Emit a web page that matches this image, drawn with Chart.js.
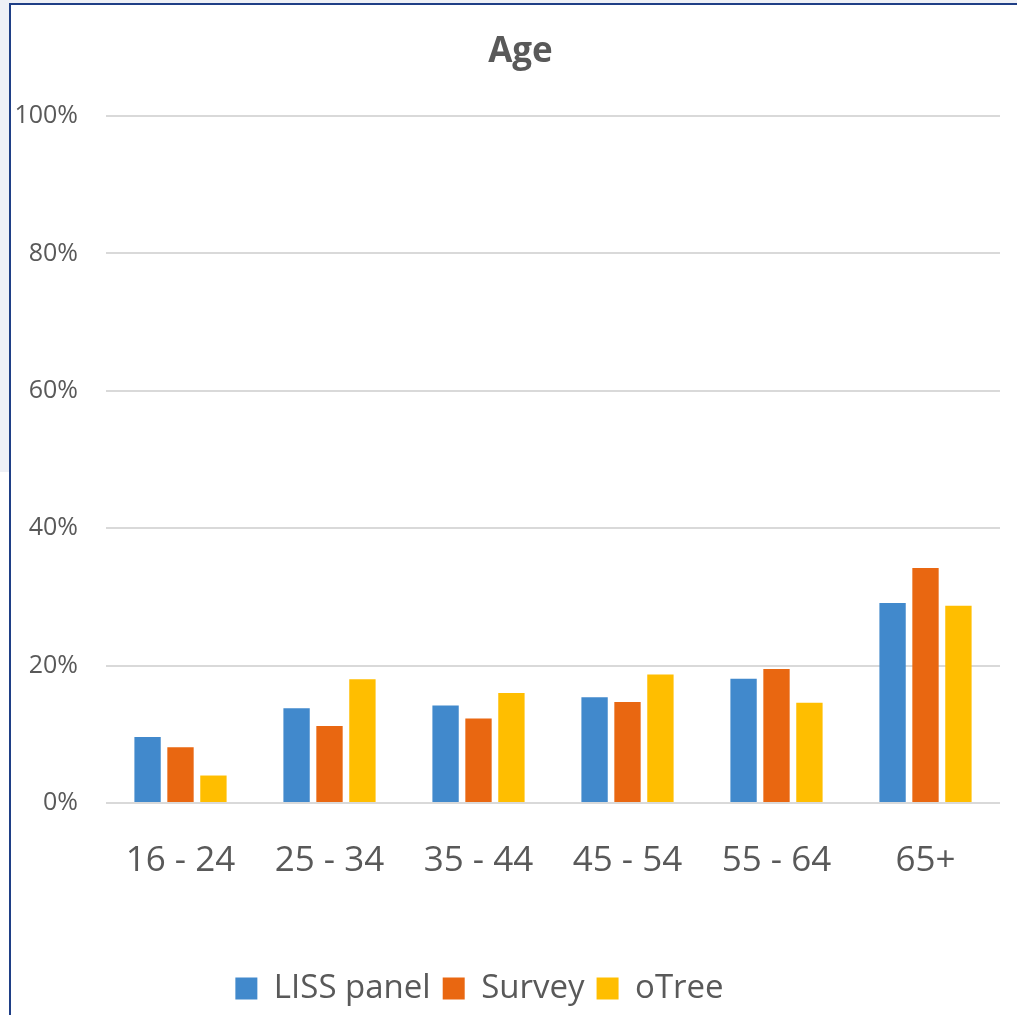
<!DOCTYPE html>
<html>
<head>
<meta charset="utf-8">
<script src="https://cdn.jsdelivr.net/npm/chart.js@4"></script>
<style>
  html, body { margin: 0; padding: 0; }
  body { width: 1017px; height: 1015px; background: #eef0f6; position: relative; overflow: hidden; }
  #lowerStrip { position: absolute; left: 0; top: 472px; width: 10px; height: 543px; background: #fff; }
  #frame {
    position: absolute; left: 9px; top: 3px; width: 1008px; height: 1012px;
    background: #fff; border-left: 2px solid #1f3f86; border-top: 2px solid #1f3f86;
  }
  #wrap { position: absolute; left: 0; top: 0; width: 1006px; height: 1010px; }
</style>
</head>
<body>
<div id="lowerStrip"></div>
<div id="frame">
  <div id="wrap"><canvas id="ageChart" width="1006" height="1010"></canvas></div>
</div>
<script>
const ageGroups = ['16 - 24', '25 - 34', '35 - 44', '45 - 54', '55 - 64', '65+'];
const lissPanel = [9.6, 13.8, 14.2, 15.4, 18.1, 29.1];
const survey    = [8.1, 11.2, 12.3, 14.7, 19.5, 34.2];
const oTree     = [4.0, 18.0, 16.0, 18.7, 14.6, 28.7];
const yTicks    = [0, 20, 40, 60, 80, 100];

const textGrey = '#595959';

// title and legend are not centred on the same axis
const boxShift = {
    id: 'boxShift',
    afterLayout(chart) {
        chart.titleBlock.left += 15;
        chart.titleBlock.right += 15;
        chart.legend.left -= 26;
        chart.legend.right -= 26;
    }
};

new Chart(document.getElementById('ageChart'), {
    type: 'bar',
    data: {
        labels: ageGroups,
        datasets: [
            { label: 'LISS panel', data: lissPanel, backgroundColor: '#4189CC' },
            { label: 'Survey', data: survey, backgroundColor: '#E96711' },
            { label: 'oTree', data: oTree, backgroundColor: '#FFBE00' }
        ]
    },
    options: {
        responsive: false,
        animation: false,
        layout: { padding: { left: 0, right: 17, top: 0, bottom: 0 } },
        datasets: {
            bar: { categoryPercentage: 0.663, barPercentage: 0.8 }
        },
        plugins: {
            title: {
                display: true,
                text: 'Age',
                color: textGrey,
                font: { family: 'Open Sans', size: 35, weight: 'bold', lineHeight: 1.2 },
                padding: { top: 26, bottom: 43 }
            },
            legend: {
                position: 'bottom',
                labels: {
                    color: textGrey,
                    boxWidth: 22,
                    boxHeight: 22,
                    padding: 12,
                    font: { family: 'Open Sans', size: 33, lineHeight: 1 }
                }
            },
            tooltip: { enabled: false }
        },
        scales: {
            x: {
                afterFit(scale) { scale.height += 49; },
                grid: { display: false },
                border: { display: false },
                ticks: {
                    color: textGrey,
                    padding: 29,
                    font: { family: 'Open Sans', size: 35 }
                }
            },
            y: {
                min: 0,
                max: 100,
                afterFit(scale) { scale.width = 95; },
                afterBuildTicks(scale) { scale.ticks = yTicks.map(v => ({ value: v })); },
                grid: { color: '#d9d9d9', lineWidth: 2, drawTicks: false },
                border: { display: false },
                ticks: {
                    color: textGrey,
                    padding: 28,
                    font: { family: 'Open Sans', size: 25 },
                    callback: v => v + '%'
                }
            }
        }
    },
    plugins: [boxShift]
});
</script>
</body>
</html>
